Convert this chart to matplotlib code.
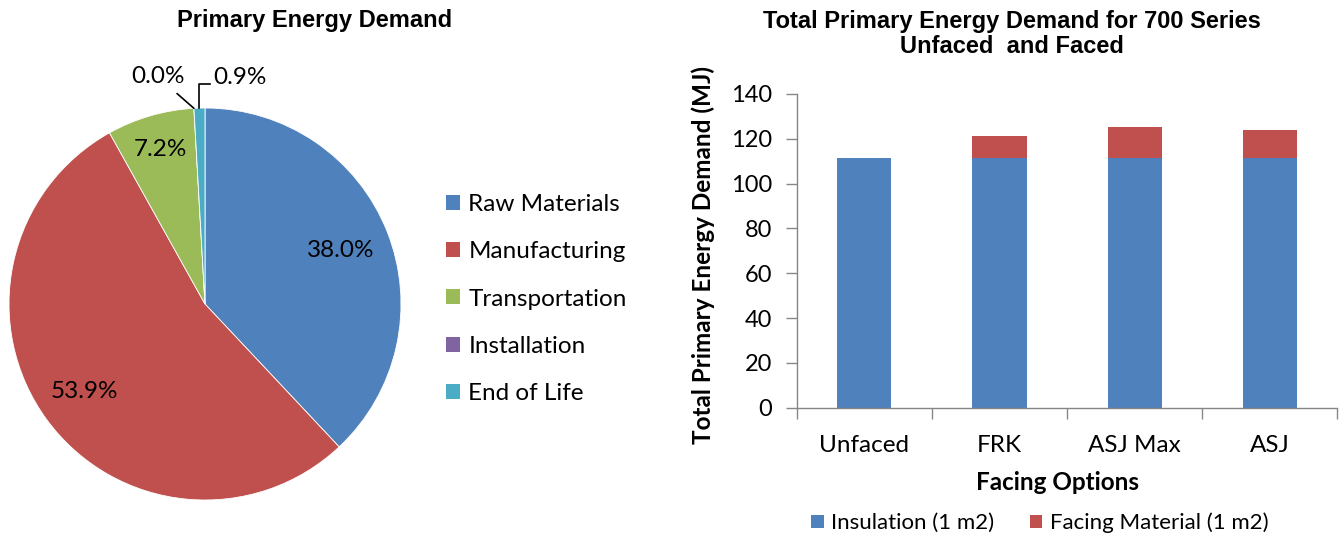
import numpy as np
import matplotlib
matplotlib.use("Agg")
import matplotlib.pyplot as plt
from matplotlib.patches import Patch

# pie data
stages = ["Raw Materials", "Manufacturing", "Transportation", "Installation", "End of Life"]
stage_pct = [38.0, 53.9, 7.2, 0.0, 0.9]
stage_colors = ["#4F81BD", "#C0504D", "#9BBB59", "#8064A2", "#4BACC6"]

# bar data
facings = ["Unfaced", "FRK", "ASJ Max", "ASJ"]
insulation = [111.6, 111.6, 111.6, 111.6]
facing_material = [0.0, 9.7, 13.6, 12.2]

W, H = 1344, 540
fig = plt.figure(figsize=(W / 100, H / 100), dpi=100)

body = "Lato"
head = "Liberation Sans"

# ---- pie ----
R = 196
cx, cy = 205, 304
half = 200
ax1 = fig.add_axes([(cx - half) / W, (H - cy - half) / H, 2 * half / W, 2 * half / H])
wedges, _ = ax1.pie(stage_pct, colors=stage_colors, startangle=90, counterclock=False,
                    wedgeprops=dict(edgecolor="white", linewidth=0.6))
ax1.set_xlim(-half / R, half / R)
ax1.set_ylim(-half / R, half / R)
ax1.set_aspect("equal")

label_r = [0.745, 0.76, 0.82]
for w, p, r in zip(wedges[:3], stage_pct[:3], label_r):
    ang = np.deg2rad((w.theta1 + w.theta2) / 2)
    ax1.text(r * np.cos(ang), r * np.sin(ang), f"{p:.1f}%", ha="center", va="center",
             fontsize=17.5, family=body)

# small slices with leader lines
w0 = wedges[3]
a0 = np.deg2rad(w0.theta1)
ax1.annotate(f"{stage_pct[3]:.1f}%", xy=(np.cos(a0), np.sin(a0)), xytext=(-0.105, 1.16),
             ha="right", va="center", fontsize=17.5, family=body, annotation_clip=False,
             arrowprops=dict(arrowstyle="-", color="black", lw=1.2, shrinkA=4, shrinkB=0))
w4 = wedges[4]
a4 = np.deg2rad((w4.theta1 + w4.theta2) / 2)
ex, ey = np.cos(a4), np.sin(a4)
ax1.plot([ex, ex, 0.026], [ey, 1.122, 1.122], color="black", lw=1.2, clip_on=False)
ax1.text(0.04, 1.155, f"{stage_pct[4]:.1f}%", ha="left", va="center", fontsize=17.5, family=body)

fig.text(315 / W, 1 - 20 / H, "Primary Energy Demand", ha="center", va="center",
         fontsize=17, fontweight="bold", family=head)

handles = [Patch(facecolor=c, edgecolor="none") for c in stage_colors]
fig.legend(handles, stages, loc="center left", bbox_to_anchor=(424 / W, 1 - 299 / H),
           frameon=False, prop=dict(family=body, size=17.5),
           handlelength=0.58, handleheight=0.58, handletextpad=0.35, labelspacing=1.08)

# ---- stacked bars ----
left, right, bottom, top = 797, 1337, 407.7, 94
ax2 = fig.add_axes([left / W, (H - bottom) / H, (right - left) / W, (bottom - top) / H])
x = np.arange(len(facings))
ax2.bar(x, insulation, width=0.4, color="#4F81BD", linewidth=0,
        label="Insulation (1 m2)")
ax2.bar(x, facing_material, width=0.4, bottom=insulation, color="#C0504D",
        linewidth=0, label="Facing Material (1 m2)")

ax2.set_xlim(-0.5, len(facings) - 0.5)
ax2.set_ylim(0, 140)
ax2.set_yticks(range(0, 141, 20))
ax2.set_xticks(x)
ax2.set_xticklabels(facings, family=body, fontsize=17.5)
ax2.set_xticks(np.arange(-0.5, len(facings)), minor=True)
ax2.tick_params(axis="x", which="major", length=0, pad=20)
ax2.tick_params(axis="x", which="minor", length=8, color="#868686", width=1)
ax2.tick_params(axis="y", length=8, color="#868686", width=1, labelsize=17, pad=10)
for lab in ax2.get_yticklabels():
    lab.set_family(body)
for s in ["top", "right"]:
    ax2.spines[s].set_visible(False)
for s in ["left", "bottom"]:
    ax2.spines[s].set_color("#868686")
    ax2.spines[s].set_linewidth(1)

fig.text(703 / W, 1 - 255 / H, "Total Primary Energy Demand (MJ)", rotation=90,
         ha="center", va="center", fontsize=17.5, fontweight="bold", family=body)
fig.text(1058 / W, 1 - 483 / H, "Facing Options", ha="center", va="center",
         fontsize=17.5, fontweight="bold", family=body)
fig.text(1012 / W, 1 - 34 / H, "Total Primary Energy Demand for 700 Series\nUnfaced  and Faced",
         ha="center", va="center", multialignment="center", linespacing=1.15,
         fontsize=17, fontweight="bold", family=head)

h2, l2 = ax2.get_legend_handles_labels()
fig.legend(h2, l2, loc="center", bbox_to_anchor=(1040 / W, 1 - 523 / H), ncol=2,
           frameon=False, prop=dict(family=body, size=16),
           handlelength=0.55, handleheight=0.55, handletextpad=0.35, columnspacing=1.6)

fig.savefig("out.png", dpi=100)
